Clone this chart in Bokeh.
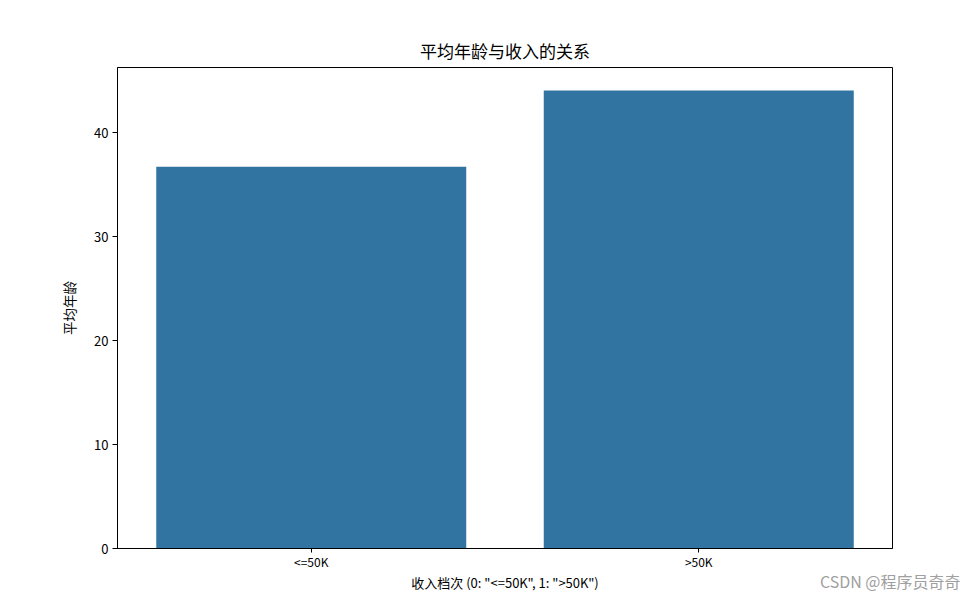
from bokeh.plotting import figure
from bokeh.models import Range1d, Title, ColumnDataSource
from bokeh.embed import file_html
from bokeh.resources import INLINE

categories = ["<=50K", ">50K"]
mean_age = [36.7, 44.05]
title_text = "平均年龄与收入的关系"
x_label = '收入档次 (0: "<=50K", 1: ">50K")'
y_label = "平均年龄"
watermark = "CSDN @程序员奇奇"

FONT = "Noto Sans CJK SC"

src = ColumnDataSource(dict(cat=categories, age=mean_age))

p = figure(width=976, height=596, x_range=categories,
           y_range=Range1d(0, max(mean_age) * 1.05),
           output_backend="svg", toolbar_location=None,
           min_border_left=117, min_border_right=84,
           min_border_top=67, min_border_bottom=48)
p.x_range.range_padding = 0

p.vbar(x="cat", top="age", width=0.8, source=src,
       fill_color="#3274a1", line_color=None)

p.title.text = title_text
p.title.align = "center"
p.title.text_font = FONT
p.title.text_font_size = "17px"
p.title.text_font_style = "normal"
p.title.text_color = "black"
p.title.standoff = 10

p.outline_line_color = "black"
p.outline_line_width = 1
p.outline_line_alpha = 1
p.xgrid.grid_line_color = None
p.ygrid.grid_line_color = None

for ax in (p.xaxis[0], p.yaxis[0]):
    ax.axis_line_color = "black"
    ax.major_tick_line_color = "black"
    ax.major_tick_out = 5
    ax.major_tick_in = 0
    ax.minor_tick_line_color = None
    ax.major_label_text_font = FONT
    ax.major_label_text_font_size = "13px"
    ax.major_label_text_color = "black"
    ax.axis_label_text_font = FONT
    ax.axis_label_text_font_size = "13.5px"
    ax.axis_label_text_font_style = "normal"
    ax.axis_label_text_color = "black"

p.yaxis.ticker = [0, 10, 20, 30, 40]
p.yaxis.major_label_standoff = 4
p.yaxis.axis_label = y_label
p.yaxis.axis_label_standoff = 12
p.xaxis.axis_label = x_label
p.xaxis.major_tick_out = 4
p.xaxis.major_label_text_font_size = "12px"
p.xaxis.axis_label_text_font_size = "13px"
p.xaxis.major_label_standoff = 0
p.xaxis.axis_label_standoff = 0

wm = Title(text=watermark, align="right", vertical_align="top",
           text_font=FONT, text_font_size="16px", text_font_style="normal",
           text_color="#a0a0a0", standoff=-52, offset=-68)
p.add_layout(wm, "below")

open("out.html", "w").write(file_html(p, INLINE))
